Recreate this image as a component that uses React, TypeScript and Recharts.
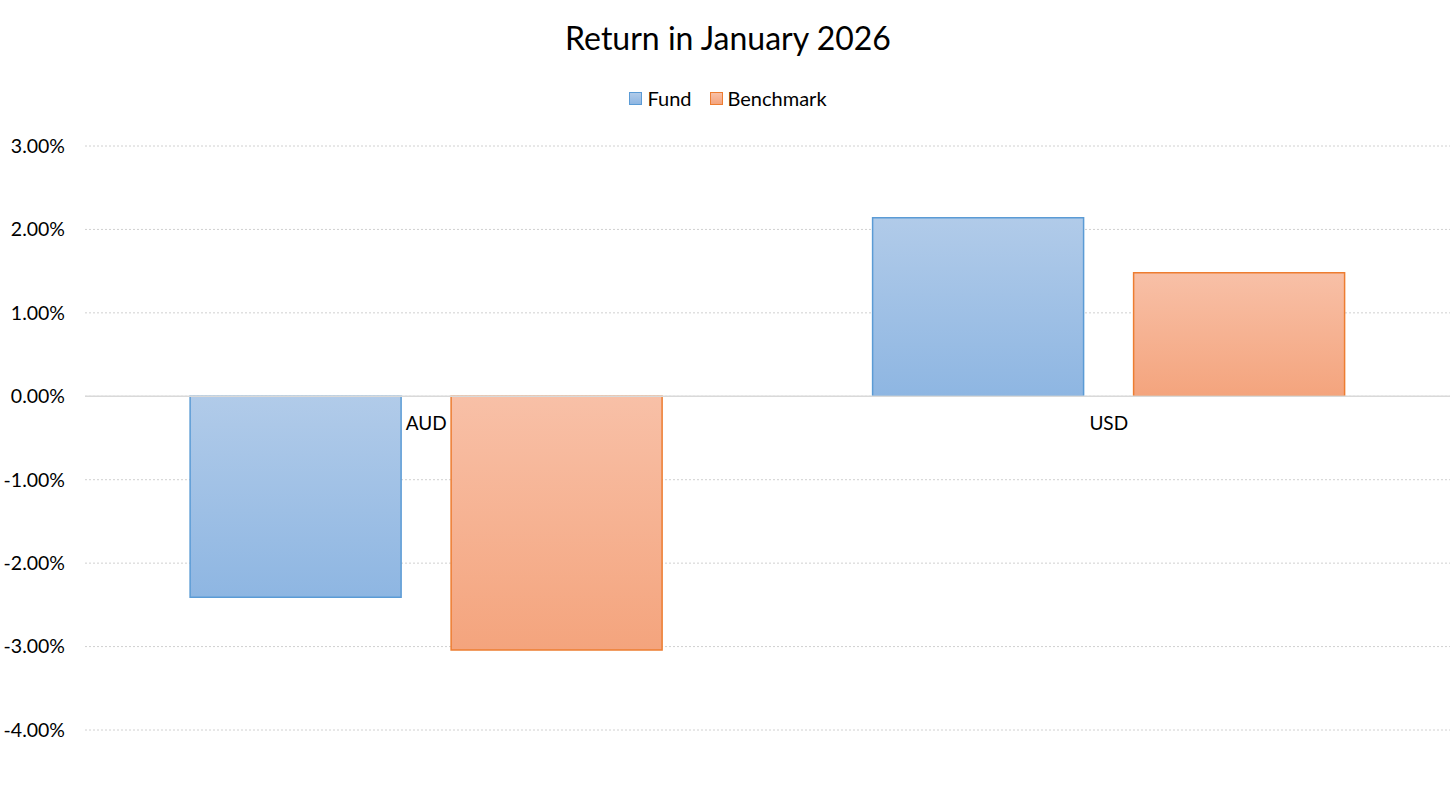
import React from 'react';
import { BarChart, Bar, XAxis, YAxis, CartesianGrid, ReferenceLine, ReferenceDot } from 'recharts';

const categories = ['AUD', 'USD'];
const fundValues = [-0.0241, 0.0214];
const benchmarkValues = [-0.0304, 0.0148];
const yTicks = [-0.04, -0.03, -0.02, -0.01, 0, 0.01, 0.02, 0.03];
const title = 'Return in January 2026';

const data = categories.map((c, i) => ({ name: c, fund: fundValues[i], benchmark: benchmarkValues[i] }));

const FONT = 'Lato, "Open Sans", sans-serif';

const fmt = (v: number) => `${(v * 100).toFixed(2)}%`;

const LegendBlock = () => (
  <div style={{ position: 'absolute', left: 0, top: 86, width: 1456, display: 'flex', justifyContent: 'center', alignItems: 'center', fontFamily: FONT, fontSize: 20, color: '#000' }}>
    <span style={{ display: 'inline-flex', alignItems: 'center', marginRight: 18 }}>
      <span style={{ width: 11, height: 11, border: '1px solid #5b9bd5', background: 'linear-gradient(#b1cbe9, #8eb6e2)', marginRight: 5 }} />
      Fund
    </span>
    <span style={{ display: 'inline-flex', alignItems: 'center' }}>
      <span style={{ width: 11, height: 11, border: '1px solid #ed7d31', background: 'linear-gradient(#f8c0a7, #f4a47d)', marginRight: 5 }} />
      Benchmark
    </span>
  </div>
);

export default function App() {
  return (
    <div style={{ position: 'absolute', left: 0, top: 0, width: 1456, height: 787, background: '#fff' }}>
      <div style={{ position: 'absolute', left: 0, top: 18, width: 1456, textAlign: 'center', fontFamily: FONT, fontSize: 32, color: '#000' }}>
        {title}
      </div>
      <LegendBlock />
      <div style={{ position: 'absolute', left: 0, top: 0 }}>
        <BarChart
          width={1456}
          height={787}
          data={data}
          margin={{ top: 146, right: 6, bottom: 57, left: 0 }}
          barCategoryGap="15.4%"
          barGap={50}
        >
          <defs>
            <linearGradient id="gFund" x1="0" y1="0" x2="0" y2="1">
              <stop offset="0%" stopColor="#b1cbe9" />
              <stop offset="100%" stopColor="#8eb6e2" />
            </linearGradient>
            <linearGradient id="gBench" x1="0" y1="0" x2="0" y2="1">
              <stop offset="0%" stopColor="#f8c0a7" />
              <stop offset="100%" stopColor="#f4a47d" />
            </linearGradient>
          </defs>
          <CartesianGrid vertical={false} stroke="#d0d0d0" strokeDasharray="2 2" />
          <XAxis dataKey="name" hide />
          <YAxis
            width={85}
            domain={[-0.04, 0.03]}
            ticks={yTicks}
            tickFormatter={fmt}
            axisLine={false}
            tickLine={false}
            tickSize={0}
            tickMargin={20}
            tick={{ fill: '#000', fontSize: 19.5, fontFamily: FONT }}
          />
          <ReferenceLine y={0} stroke="#d9d9d9" strokeWidth={1.5} />
          <Bar dataKey="fund" name="Fund" fill="url(#gFund)" stroke="#5b9bd5" strokeWidth={1.5} isAnimationActive={false} />
          <Bar dataKey="benchmark" name="Benchmark" fill="url(#gBench)" stroke="#ed7d31" strokeWidth={1.5} isAnimationActive={false} />
          {categories.map((c) => (
            <ReferenceDot
              key={c}
              x={c}
              y={0}
              r={0}
              fill="none"
              stroke="none"
              label={{ value: c, position: 'bottom', offset: 20, fill: '#000', fontSize: 19, fontFamily: FONT }}
            />
          ))}
        </BarChart>
      </div>
    </div>
  );
}
